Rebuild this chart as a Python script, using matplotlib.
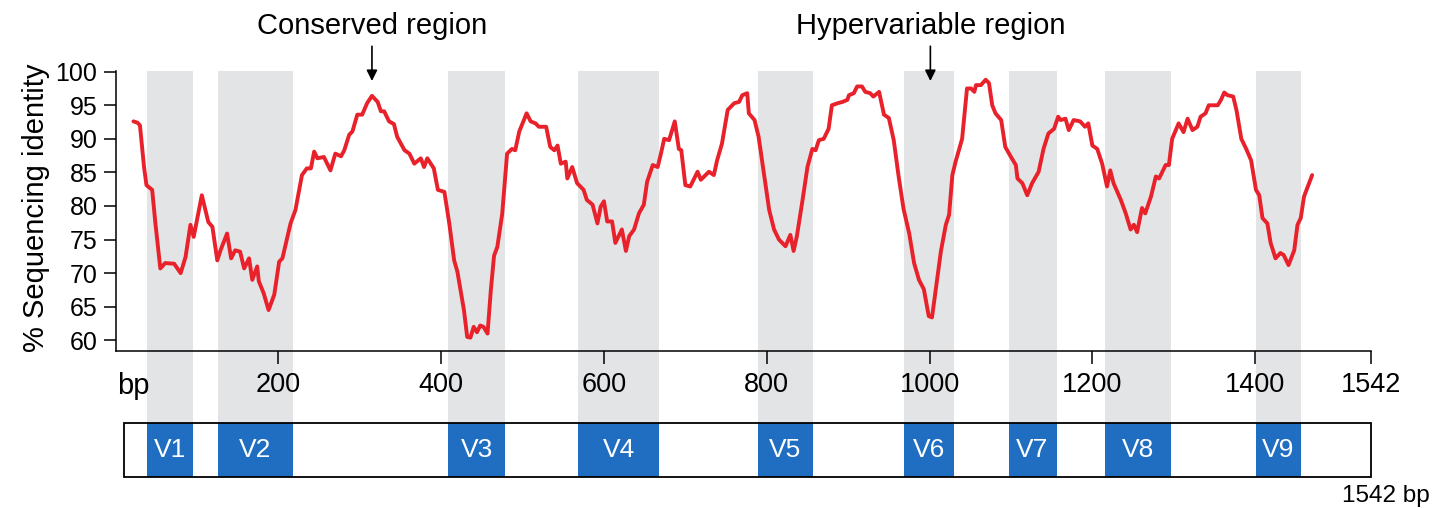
import matplotlib
matplotlib.use('Agg')
import matplotlib.pyplot as plt
from matplotlib.patches import Rectangle

plt.rcParams['font.family'] = ['Liberation Sans', 'DejaVu Sans']

# Posição (bp) e identidade (%)
pos_bp = [22, 27, 30, 35, 38, 45, 49, 55, 61, 72, 80, 86, 92, 96, 106, 114, 119, 125, 129, 137,
          142, 147, 153, 158, 164, 168, 174, 176, 182, 188, 195, 201, 205, 215, 221, 229, 235, 240,
          244, 248, 256, 264, 270, 277, 281, 287, 291, 297, 303, 309, 315, 322, 326, 330, 336, 342,
          346, 355, 361, 367, 375, 379, 383, 391, 396, 404, 410, 416, 420, 428, 432, 436, 440, 444,
          448, 452, 457, 461, 465, 469, 475, 481, 487, 491, 496, 500, 505, 510, 516, 520, 529, 534,
          539, 543, 547, 553, 555, 561, 567, 575, 579, 586, 592, 596, 600, 604, 610, 614, 618, 622,
          627, 631, 637, 643, 649, 653, 660, 666, 670, 674, 680, 687, 692, 695, 700, 706, 715, 719,
          729, 735, 739, 745, 752, 760, 766, 770, 776, 778, 785, 790, 797, 803, 809, 815, 823, 829,
          833, 837, 844, 850, 856, 860, 864, 870, 876, 880, 887, 893, 899, 901, 907, 911, 917, 921,
          927, 931, 938, 944, 950, 956, 962, 968, 975, 981, 987, 993, 999, 1003, 1009, 1014, 1020,
          1024, 1028, 1032, 1040, 1046, 1051, 1055, 1057, 1063, 1069, 1073, 1077, 1081, 1088, 1093,
          1100, 1106, 1108, 1114, 1120, 1126, 1134, 1140, 1146, 1153, 1158, 1161, 1167, 1171, 1177,
          1185, 1191, 1195, 1200, 1206, 1212, 1218, 1222, 1226, 1235, 1241, 1247, 1251, 1255, 1261,
          1265, 1272, 1278, 1282, 1290, 1294, 1298, 1306, 1312, 1317, 1323, 1329, 1333, 1339, 1343,
          1354, 1358, 1362, 1366, 1373, 1377, 1383, 1389, 1395, 1401, 1405, 1409, 1415, 1419, 1425,
          1431, 1435, 1441, 1448, 1452, 1456, 1460, 1470]
identidade = [92.6, 92.4, 92.0, 85.8, 83.1, 82.4, 77.4, 70.7, 71.5, 71.4, 70.0, 72.4, 77.2, 75.4, 81.6,
              77.6, 76.9, 71.9, 73.4, 75.9, 72.2, 73.4, 73.2, 70.7, 72.2, 69.0, 71.0, 68.8, 67.0, 64.5,
              66.8, 71.7, 72.2, 77.4, 79.4, 84.6, 85.6, 85.6, 88.1, 87.1, 87.3, 85.3, 87.8, 87.4, 88.3,
              90.6, 91.1, 93.6, 93.6, 95.3, 96.4, 95.5, 94.1, 94.1, 92.6, 92.2, 90.3, 88.3, 87.8, 86.3,
              87.1, 85.8, 87.1, 85.6, 82.4, 82.1, 77.4, 71.9, 70.2, 64.5, 60.5, 60.4, 62.0, 61.2, 62.2,
              62.0, 61.0, 67.4, 72.6, 73.9, 78.8, 87.8, 88.5, 88.3, 91.1, 92.3, 93.8, 92.6, 92.3, 91.8,
              91.8, 88.8, 88.3, 89.0, 86.3, 86.6, 84.1, 85.8, 83.4, 82.4, 80.9, 80.2, 77.4, 79.9, 80.7,
              77.7, 77.7, 74.5, 75.5, 76.5, 73.3, 75.5, 76.5, 78.9, 80.2, 83.6, 86.1, 85.8, 87.8, 90.0,
              89.8, 92.6, 88.5, 88.3, 83.1, 82.9, 85.1, 83.9, 85.1, 84.6, 86.8, 89.3, 94.3, 95.3, 95.5,
              96.5, 96.8, 93.8, 92.8, 90.3, 84.4, 79.4, 76.5, 75.0, 74.0, 75.7, 73.3, 75.5, 80.9, 85.8,
              88.5, 88.3, 89.8, 90.0, 91.5, 95.0, 95.3, 95.5, 95.8, 96.5, 96.8, 97.8, 97.8, 97.0, 96.8,
              96.3, 97.0, 93.6, 93.1, 89.8, 84.4, 79.6, 75.9, 71.5, 69.0, 67.6, 63.6, 63.4, 68.8, 73.3,
              77.2, 78.7, 84.6, 86.6, 90.0, 97.5, 97.5, 97.0, 98.0, 98.0, 98.8, 98.3, 95.0, 93.8, 92.8,
              88.8, 87.3, 86.1, 84.1, 83.4, 81.6, 83.4, 85.1, 88.5, 90.8, 91.5, 93.3, 92.8, 93.0, 91.3,
              92.8, 92.6, 91.8, 92.3, 89.0, 88.5, 86.3, 82.9, 85.3, 83.4, 80.9, 78.9, 76.5, 77.2, 76.1,
              79.7, 78.9, 81.4, 84.4, 84.1, 86.1, 86.1, 90.0, 92.3, 91.0, 93.0, 91.3, 91.8, 93.3, 93.8,
              95.0, 95.0, 95.8, 96.9, 96.5, 96.3, 94.3, 90.0, 88.5, 86.8, 82.4, 81.6, 78.2, 77.4, 74.5,
              72.2, 73.0, 72.7, 71.2, 73.4, 77.2, 78.2, 81.4, 84.6]

# Regiões variáveis V1-V9
regioes = ['V1', 'V2', 'V3', 'V4', 'V5', 'V6', 'V7', 'V8', 'V9']
inicio = [39, 126, 409, 568, 789, 968, 1097, 1215, 1401]
fim = [95, 218, 479, 668, 857, 1030, 1156, 1297, 1456]

ticks_x = [200, 400, 600, 800, 1000, 1200, 1400, 1542]
ticks_y = [60, 65, 70, 75, 80, 85, 90, 95, 100]
comprimento = 1542

cinza = '#e3e4e6'
azul = '#1f6ec2'
vermelho = '#e8212b'

fig = plt.figure(figsize=(14.37, 5.08), dpi=100)
ax = fig.add_axes([0.0804, 0.309, 0.8735, 0.5512])
ax_box = fig.add_axes([0.0804, 0.0616, 0.8735, 0.1051])

# faixas cinza que descem até a caixa
for a, b in zip(inicio, fim):
    ax.axvspan(a, b, ymin=-0.26, ymax=1.0, color=cinza, lw=0, zorder=0, clip_on=False)

ax.plot(pos_bp, identidade, color=vermelho, lw=2.8, zorder=3,
        solid_joinstyle='round', solid_capstyle='round')

ax.set_xlim(0, comprimento)
ax.set_ylim(58.4, 100.1)
ax.set_xticks(ticks_x)
ax.set_xticklabels([str(t) for t in ticks_x])
ax.set_yticks(ticks_y)
ax.tick_params(axis='x', labelsize=19.5, length=9, width=1.1, pad=6)
ax.tick_params(axis='y', labelsize=18, length=9, width=1.1, pad=4)
for s in ['top', 'right']:
    ax.spines[s].set_visible(False)
for s in ['left', 'bottom']:
    ax.spines[s].set_linewidth(1.1)
ax.patch.set_alpha(0)
ax.set_ylabel('% Sequencing identity', fontsize=21)
ax.yaxis.set_label_coords(-0.052, 0.51)
ax.text(2, -0.075, 'bp', transform=ax.get_xaxis_transform(), fontsize=21,
        ha='left', va='top')

# setas
ax.annotate('', xy=(315, 98.2), xytext=(315, 104.2),
            arrowprops=dict(arrowstyle='-|>', color='black', lw=1.2, mutation_scale=16),
            annotation_clip=False)
ax.text(315, 106.8, 'Conserved region', fontsize=21, ha='center', va='center', clip_on=False)
ax.annotate('', xy=(1001, 98.2), xytext=(1001, 104.2),
            arrowprops=dict(arrowstyle='-|>', color='black', lw=1.2, mutation_scale=16),
            annotation_clip=False)
ax.text(1001, 106.8, 'Hypervariable region', fontsize=21, ha='center', va='center', clip_on=False)

# caixa inferior com as regiões V
ax_box.set_xlim(0, comprimento)
ax_box.set_ylim(0, 1)
ax_box.axis('off')
for a, b, nome in zip(inicio, fim, regioes):
    ax_box.add_patch(Rectangle((a, 0), b - a, 1, color=azul, lw=0, zorder=1))
    ax_box.text((a + b) / 2, 0.5, nome, color='white', fontsize=19, ha='center', va='center', zorder=3)
ax_box.add_patch(Rectangle((10.5, 0), comprimento - 10.5, 1, fill=False, ec='black', lw=1.3,
                           zorder=2, clip_on=False))
ax_box.text(1.047, -0.47, '1542 bp', transform=ax_box.transAxes, fontsize=17.5,
            ha='right', va='baseline')

fig.savefig('out.png', dpi=100)
